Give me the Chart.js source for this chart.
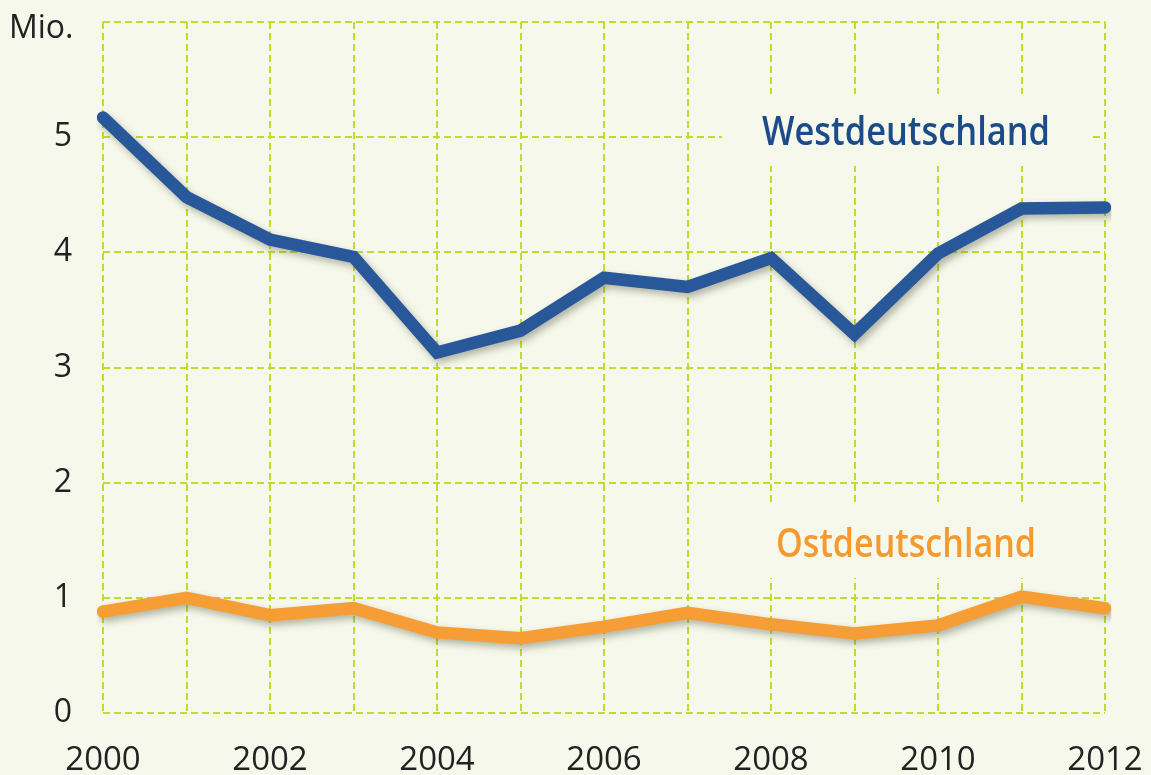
<!DOCTYPE html>
<html>
<head>
<meta charset="utf-8">
<script src="https://cdn.jsdelivr.net/npm/chart.js@4/dist/chart.umd.min.js"></script>
<style>
  html, body { margin: 0; padding: 0; background: #f5f8ea; }
  #wrap { width: 1151px; height: 775px; position: relative; }
</style>
</head>
<body>
<div id="wrap"><canvas id="c" width="1151" height="775"></canvas></div>
<script>
// --- data (Mio.) ---
const years = ['2000', '2001', '2002', '2003', '2004', '2005', '2006', '2007', '2008', '2009', '2010', '2011', '2012'];
const west = [5.17, 4.48, 4.11, 3.96, 3.13, 3.32, 3.78, 3.70, 3.95, 3.29, 3.99, 4.38, 4.39];
const east = [0.88, 1.00, 0.85, 0.91, 0.70, 0.65, 0.75, 0.87, 0.77, 0.69, 0.76, 1.01, 0.91];
const yTicks = [0, 1, 2, 3, 4, 5, 6];

const BG = '#f5f8ea';
const GRID = '#c0dc2c';
const BLUE = '#28589a';
const ORANGE = '#f79d35';
const FONT = "'Open Sans', 'Noto Sans', sans-serif";

// canvas background
const bgPlugin = {
  id: 'bg',
  beforeDraw(chart) {
    const ctx = chart.ctx;
    ctx.save();
    ctx.fillStyle = BG;
    ctx.fillRect(0, 0, chart.width, chart.height);
    ctx.restore();
  }
};

// soft drop shadow under the lines
const shadowPlugin = {
  id: 'shadow',
  beforeDatasetDraw(chart) {
    const ctx = chart.ctx;
    ctx.save();
    ctx.shadowColor = 'rgba(70,70,50,0.38)';
    ctx.shadowBlur = 7;
    ctx.shadowOffsetX = 3;
    ctx.shadowOffsetY = 4;
  },
  afterDatasetDraw(chart) { chart.ctx.restore(); }
};

// series labels sit on a background patch that interrupts the grid
const labelPlugin = {
  id: 'seriesLabels',
  beforeDatasetsDraw(chart) {
    const ctx = chart.ctx;
    ctx.save();
    ctx.fillStyle = BG;
    ctx.fillRect(722, 94, 371, 72);
    ctx.fillRect(748, 506, 312, 72);
    ctx.restore();
  },
  afterDraw(chart) {
    const ctx = chart.ctx;
    ctx.save();
    ctx.textBaseline = 'alphabetic';
    ctx.textAlign = 'left';
    ctx.font = '600 39px ' + FONT;
    ctx.fillStyle = '#1b4b88';
    ctx.fillText('Westdeutschland', 762, 145, 288);
    ctx.fillStyle = '#f49a2f';
    ctx.fillText('Ostdeutschland', 776, 557, 260);
    ctx.font = '32px ' + FONT;
    ctx.fillStyle = '#222';
    ctx.fillText('Mio.', 9, 38);
    ctx.restore();
  }
};

new Chart(document.getElementById('c').getContext('2d'), {
  type: 'line',
  data: {
    labels: years,
    datasets: [
      { label: 'Westdeutschland', data: west, borderColor: BLUE, borderWidth: 12.5, borderCapStyle: 'round', borderJoinStyle: 'miter', pointRadius: 0, tension: 0, fill: false },
      { label: 'Ostdeutschland', data: east, borderColor: ORANGE, borderWidth: 12.5, borderCapStyle: 'round', borderJoinStyle: 'miter', pointRadius: 0, tension: 0, fill: false }
    ]
  },
  options: {
    responsive: false,
    animation: false,
    events: [],
    layout: { padding: { top: 22, right: 46, left: 0, bottom: 0 } },
    plugins: { legend: { display: false }, tooltip: { enabled: false } },
    scales: {
      x: {
        type: 'category',
        offset: false,
        grid: { color: GRID, lineWidth: 2, drawTicks: false },
        border: { display: false, dash: [7, 4] },
        ticks: {
          autoSkip: false, maxRotation: 0, padding: 28, color: '#222',
          font: { family: FONT, size: 33 },
          callback: (v, i) => (i % 2 === 0 ? years[i] : '')
        },
        afterFit: (s) => { s.height = 62; s.paddingLeft = 0; s.paddingRight = 0; }
      },
      y: {
        min: yTicks[0], max: yTicks[yTicks.length - 1],
        afterBuildTicks: (s) => { s.ticks = yTicks.map(v => ({ value: v })); },
        grid: { color: GRID, lineWidth: 2, drawTicks: false },
        border: { display: false, dash: [7, 4] },
        ticks: {
          padding: 31, color: '#222',
          font: { family: FONT, size: 32 },
          callback: (v) => (v === 6 ? '' : String(v))
        },
        afterFit: (s) => { s.width = 103; s.paddingTop = 0; s.paddingBottom = 0; }
      }
    }
  },
  plugins: [bgPlugin, labelPlugin, shadowPlugin]
});
</script>
</body>
</html>
